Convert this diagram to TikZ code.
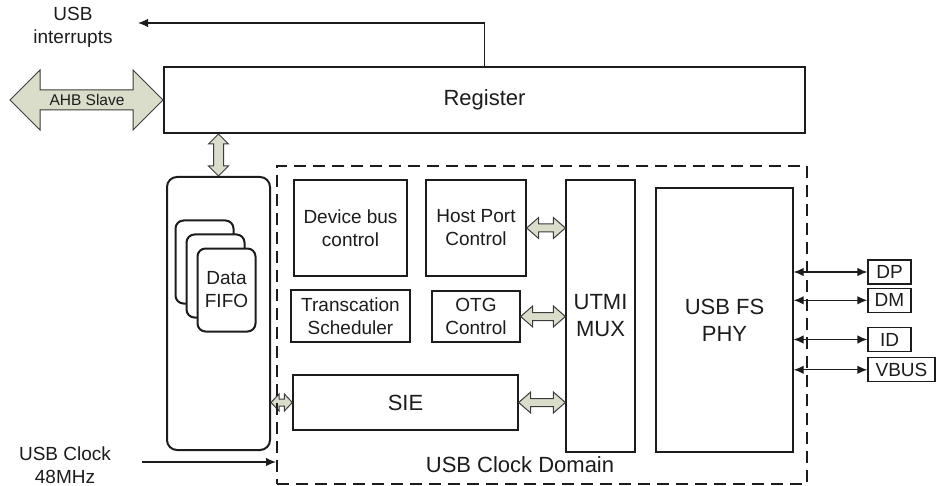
\documentclass[tikz,border=0pt]{standalone}
\usepackage{fontspec}
\setmainfont{Liberation Sans}
\usepackage{xcolor}
\usepackage{tikz}
\usetikzlibrary{
arrows.meta,
positioning,
calc
}
\definecolor{ink}{HTML}{1C1C1C}
\definecolor{fatfill}{HTML}{D9DDCA}
\definecolor{fatline}{HTML}{3C3C3C}

\begin{document}
\begin{tikzpicture}[
x=1pt, y=-1pt,
>={Latex[length=10pt,width=8.5pt]},
every node/.style={text=ink, inner sep=0pt},
box/.style={
rectangle,
draw=ink,
line width=1.3pt,
align=center,
font=\fontsize{19}{23}\selectfont
},
bigbox/.style={
box,
font=\fontsize{22}{27}\selectfont
},
card/.style={
rectangle,
rounded corners=8pt,
draw=ink,
fill=white,
line width=2pt,
minimum width=58pt,
minimum height=83pt,
align=center,
font=\fontsize{19}{23}\selectfont
},
pinbox/.style={
box,
minimum height=24pt,
minimum width=43pt
},
txt/.style={align=center, font=\fontsize{19}{23}\selectfont},
arrow/.style={->, draw=ink, line width=1.3pt},
pinline/.style={<->, draw=ink, line width=1.3pt},
fat/.style n args={3}{
draw=fatline, fill=fatfill, line width=1pt,
to path={
let \p1=(\tikztostart), \p2=(\tikztotarget),
\n1={atan2(\y2-\y1,\x2-\x1)}, \n2={veclen(\x2-\x1,\y2-\y1)}
in ([shift={(\p1)},rotate=\n1]0pt,0pt)
-- ([shift={(\p1)},rotate=\n1]#1pt,#2pt)
-- ([shift={(\p1)},rotate=\n1]#1pt,#3pt)
-- ([shift={(\p1)},rotate=\n1]\n2-#1pt,#3pt)
-- ([shift={(\p1)},rotate=\n1]\n2-#1pt,#2pt)
-- ([shift={(\p1)},rotate=\n1]\n2,0pt)
-- ([shift={(\p1)},rotate=\n1]\n2-#1pt,-#2pt)
-- ([shift={(\p1)},rotate=\n1]\n2-#1pt,-#3pt)
-- ([shift={(\p1)},rotate=\n1]#1pt,-#3pt)
-- ([shift={(\p1)},rotate=\n1]#1pt,-#2pt)
-- cycle
}
}
]
\useasboundingbox (0,0) rectangle (936,486);

% top: register and bus side
\node[bigbox, line width=2pt, minimum width=641pt, minimum height=66pt] (reg) at (484.5,100) {Register};
\node[txt] (intr) at (73,27) {USB\\interrupts};
\coordinate (intrend) at (138,23);
\coordinate (ahbtip) at (10,100);

% fifo column
\node[rectangle, rounded corners=10pt, draw=ink, line width=2pt, minimum width=103pt, minimum height=273pt] (fifo) at (218.5,313.5) {};
\node[card] (card1) at (204.5,262) {};
\node[card] (card2) at ([shift={(11,14)}]card1) {};
\node[card] (card3) at ([shift={(11,14)}]card2) {Data\\FIFO};

% clock domain blocks
\node[box, minimum width=113pt, minimum height=96pt] (devbus) at (350.5,228) {Device bus\\control};
\node[box, minimum width=100pt, minimum height=96pt] (hostport) at (476,228) {Host Port\\Control};
\node[box, minimum width=119pt, minimum height=52pt] (sched) at (350.5,316) {Transcation\\Scheduler};
\node[box, minimum width=88pt, minimum height=51pt] (otg) at (476,316.5) {OTG\\Control};
\node[bigbox, minimum width=225pt, minimum height=55pt] (sie) at (405.5,402.5) {SIE};
\node[bigbox, minimum width=69pt, minimum height=272pt] (utmi) at (600.5,316) {UTMI\\MUX};
\node[bigbox, minimum width=137pt, minimum height=264pt] (phy) at (724.5,320) {USB FS\\PHY};

% pins
\node[pinbox] (dp) at (889.5,272) {DP};
\node[pinbox, below=3pt of dp] (dm) {DM};
\node[pinbox] (id) at (889.5,339.5) {ID};
\node[pinbox, minimum width=67pt, below right=5pt and 0pt of id.south west, anchor=north west] (vbus) {VBUS};

\draw[arrow] (reg.north) |- (intrend);
\draw[fat={30}{30}{10}] (ahbtip) to (reg.west);
\node[font=\fontsize{15.5}{18}\selectfont] (ahb) at (87,100) {AHB Slave};
\draw[fat={10}{10}{5}] (reg.south -| fifo.north) to (fifo.north);

\draw[fat={12}{10.5}{4}] (hostport.east) to (hostport.east -| utmi.west);
\draw[fat={12}{10.5}{4}] (otg.east) to (otg.east -| utmi.west);
\draw[fat={12}{10.5}{4}] (sie.east) to (sie.east -| utmi.west);
\draw[fat={8}{8.5}{3.5}] (sie.west -| fifo.east) to (sie.west);

\draw[pinline] (dp.west -| phy.east) -- (dp.west);
\draw[pinline] (dm.west -| phy.east) -- (dm.west);
\draw[pinline] (id.west -| phy.east) -- (id.west);
\draw[pinline] (vbus.west -| phy.east) -- (vbus.west);

% usb clock domain
\node[rectangle, draw=ink, line width=2pt, dash pattern=on 12pt off 7pt, minimum width=530pt, minimum height=318pt] (dom) at (542,325) {};
\node[txt, font=\fontsize{22}{27}\selectfont] (domlbl) at (520,465) {USB Clock Domain};

\node[txt] (clk) at (65,465) {USB Clock\\48MHz};
\coordinate (clkstart) at (142,462);
\draw[arrow] (clkstart) -- (clkstart -| dom.west);

\end{tikzpicture}
\end{document}
